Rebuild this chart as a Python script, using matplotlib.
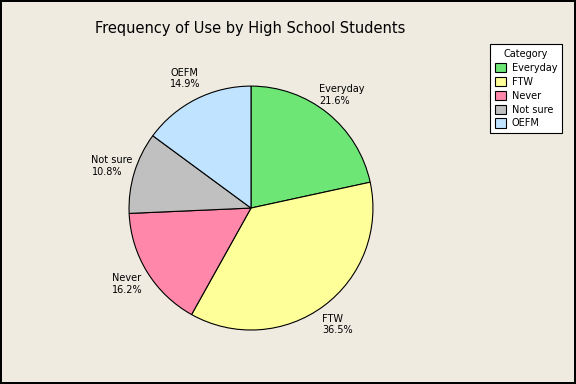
import matplotlib
matplotlib.use('Agg')
import matplotlib.pyplot as plt

# data
categories = ['Everyday', 'FTW', 'Never', 'Not sure', 'OEFM']
percents = [21.6, 36.5, 16.2, 10.8, 14.9]
colors = ['#6ee676', '#ffff99', '#ff88aa', '#c0c0c0', '#c0e4ff']

bg = '#efebe1'

fig = plt.figure(figsize=(5.76, 3.84), dpi=100)
fig.patch.set_facecolor(bg)
fig.patch.set_edgecolor('black')
fig.patch.set_linewidth(1.5)

# pie centred around (251, 208) px, radius ~122 px
ax = fig.add_axes([0.171, 0.0612, 0.5295, 0.794])
ax.set_facecolor(bg)

labels = [f'{c}\n{p}%' for c, p in zip(categories, percents)]
wedges, texts = ax.pie(percents, colors=colors, labels=labels,
                       startangle=90, counterclock=False,
                       labeldistance=1.19,
                       wedgeprops=dict(edgecolor='black', linewidth=0.8),
                       textprops=dict(fontsize=7))
for t in texts:
    t.set_ha('center')
    t.set_va('center')
    t.set_multialignment('left')

ax.set_xlim(-1.25, 1.25)
ax.set_ylim(-1.25, 1.25)
ax.set_aspect('equal')

fig.text(0.435, 0.927, 'Frequency of Use by High School Students',
         ha='center', va='center', fontsize=10.5)

leg = fig.legend(wedges, categories, title='Category',
                 loc='upper left', bbox_to_anchor=(0.851, 0.885),
                 fontsize=7, title_fontsize=7, frameon=True, fancybox=False,
                 handlelength=1.1, handleheight=1.1, handletextpad=0.6,
                 labelspacing=0.4, borderpad=0.5, borderaxespad=0)
leg.get_frame().set_edgecolor('black')
leg.get_frame().set_linewidth(0.8)
leg.get_frame().set_facecolor('white')
leg.get_frame().set_alpha(1)

fig.savefig('out.png', dpi=100, facecolor=fig.get_facecolor(), edgecolor='black')
